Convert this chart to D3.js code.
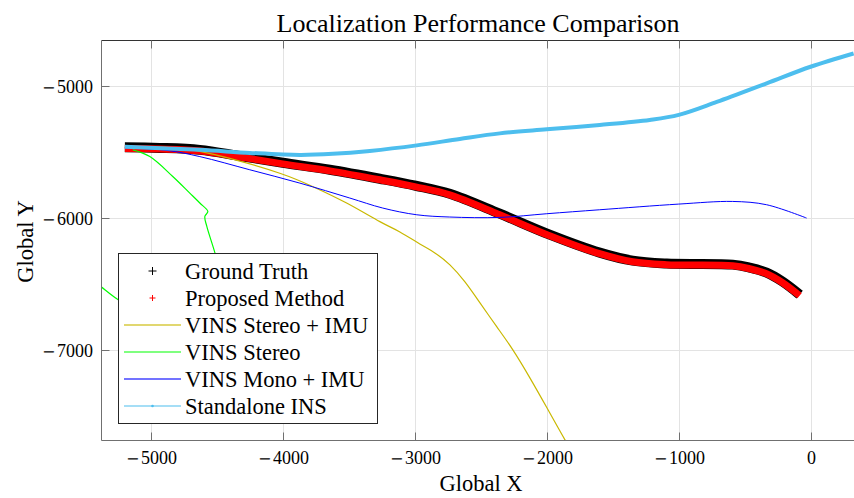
<!DOCTYPE html>
<html><head><meta charset="utf-8">
<script src="https://cdn.jsdelivr.net/npm/d3@7"></script>
<style>
body{margin:0;background:#fff}
svg{display:block}
text{font-family:"Liberation Serif","Times New Roman",serif;fill:#000}
</style>
</head><body>
<svg id="c" width="854" height="498"></svg>
<script>
// ---- data ----
const gtX   = [-5199,-4934,-4631,-4328,-4002,-3646,-3267,-2995,-2737,-2358,-1980,-1601,-1351,-1093,-593,-464,-336,-215,-86];
const gtY   = [-5465,-5469,-5484,-5530,-5582,-5635,-5703,-5756,-5817,-5968,-6127,-6263,-6324,-6346,-6354,-6377,-6415,-6483,-6581];
const propX = [-5199,-4934,-4631,-4328,-4002,-3646,-3267,-2995,-2737,-2358,-1980,-1601,-1351,-1093,-593,-464,-336,-215,-86];
const propY = [-5473,-5477,-5492,-5538,-5590,-5643,-5711,-5764,-5825,-5976,-6135,-6271,-6332,-6354,-6362,-6385,-6423,-6491,-6589];
const stImuX = [-5199,-4783,-4404,-4025,-3773,-3515,-3267,-3115,-2964,-2850,-2736,-2622,-2508,-2380,-2259,-2130,-2001,-1864,-1750];
const stImuY = [-5465,-5472,-5548,-5661,-5763,-5889,-6028,-6106,-6197,-6265,-6356,-6485,-6644,-6826,-7000,-7212,-7439,-7682,-7871];
const stX = [-5138,-5010,-4836,-4707,-4631,-4570,-4593,-4578,-4517,-4442,-4631,-5010,-5252,-5381,-5616];
const stY = [-5484,-5535,-5686,-5812,-5887,-5951,-5989,-6064,-6263,-6543,-6808,-6770,-6619,-6520,-6331];
const monoX = [-5199,-4880,-4631,-4252,-3873,-3495,-3245,-2987,-2737,-2358,-2002,-1601,-1002,-593,-336,-33];
const monoY = [-5469,-5488,-5535,-5635,-5736,-5849,-5925,-5976,-5993,-5996,-5968,-5938,-5895,-5875,-5900,-6001];
const insX = [-5199,-4631,-4252,-3873,-3623,-3343,-2987,-2661,-2358,-2002,-1601,-1222,-1002,-714,-336,-3,323];
const insY = [-5461,-5484,-5507,-5522,-5514,-5492,-5450,-5401,-5359,-5328,-5295,-5257,-5219,-5121,-4980,-4854,-4753];
const xTicks = [-5000,-4000,-3000,-2000,-1000,0];
const yTicks = [-5000,-6000,-7000];
const legendNames = ["Ground Truth","Proposed Method","VINS Stereo + IMU","VINS Stereo","VINS Mono + IMU","Standalone INS"];
const titleText = "Localization Performance Comparison";
const xLabel = "Global X", yLabel = "Global Y";

// ---- layout ----
const L = 101.5, T = 40.5, R = 854, B = 440.5;
const x = d3.scaleLinear().domain([-5376, 326]).range([L, R]);
const y = d3.scaleLinear().domain([-7687, -4655]).range([B, T]);
const svg = d3.select("#c");

function tickLabel(sel, v){
  if (v < 0){
    sel.append("tspan").attr("font-family","DejaVu Serif").attr("font-size","16px").text("\u2212");
    sel.append("tspan").attr("dx",1.5).text(String(Math.abs(v)));
  } else sel.text(String(v));
}

svg.append("defs").append("clipPath").attr("id","clip")
  .append("rect").attr("x",L).attr("y",T).attr("width",R-L).attr("height",B-T);

// grid
const grid = svg.append("g").attr("stroke","#e3e3e3").attr("stroke-width",1);
xTicks.forEach(t=>grid.append("line").attr("x1",Math.round(x(t))+0.5).attr("x2",Math.round(x(t))+0.5).attr("y1",T).attr("y2",B));
yTicks.forEach(t=>grid.append("line").attr("y1",Math.round(y(t))+0.5).attr("y2",Math.round(y(t))+0.5).attr("x1",L).attr("x2",R));

const zip = (a,b)=>a.map((v,i)=>[v,b[i]]);
const line = d3.line().x(d=>x(d[0])).y(d=>y(d[1])).curve(d3.curveCatmullRom.alpha(0.5));
const smooth = d3.line().x(d=>x(d[0])).y(d=>y(d[1])).curve(d3.curveNatural);
const plot = svg.append("g").attr("clip-path","url(#clip)").attr("fill","none");

plot.append("path").attr("d",line(zip(gtX,gtY))).attr("stroke","#000").attr("stroke-width",10);
plot.append("path").attr("d",line(zip(propX,propY))).attr("stroke","#ff0000").attr("stroke-width",7);
plot.append("path").attr("d",smooth(zip(stImuX,stImuY))).attr("stroke","#c9b800").attr("stroke-width",1.2);
plot.append("path").attr("d",line(zip(stX,stY))).attr("stroke","#00ff00").attr("stroke-width",1.2);
plot.append("path").attr("d",line(zip(monoX,monoY))).attr("stroke","#0000ff").attr("stroke-width",1);
plot.append("path").attr("d",line(zip(insX,insY))).attr("stroke","#4dbeee").attr("stroke-width",4);

// axes lines
const ax = svg.append("g");
ax.append("line").attr("x1",L).attr("x2",R).attr("y1",T).attr("y2",T).attr("stroke","#333").attr("stroke-width",1);
ax.append("line").attr("x1",L).attr("x2",L).attr("y1",T).attr("y2",B).attr("stroke","#707070").attr("stroke-width",1);
ax.append("line").attr("x1",L).attr("x2",R).attr("y1",B).attr("y2",B).attr("stroke","#707070").attr("stroke-width",1);
xTicks.forEach(t=>{
  const px = Math.round(x(t))+0.5;
  ax.append("line").attr("x1",px).attr("x2",px).attr("y1",B).attr("y2",B-8).attr("stroke","#707070");
  ax.append("line").attr("x1",px).attr("x2",px).attr("y1",T).attr("y2",T+8).attr("stroke","#707070");
  ax.append("text").attr("x",px).attr("y",464).attr("text-anchor","middle").attr("font-size","18px").call(tickLabel, t);
});
yTicks.forEach(t=>{
  const py = Math.round(y(t))+0.5;
  ax.append("line").attr("x1",L).attr("x2",L+8).attr("y1",py).attr("y2",py).attr("stroke","#707070");
  ax.append("text").attr("x",93).attr("y",py+6).attr("text-anchor","end").attr("font-size","18px").call(tickLabel, t);
});

// title & labels
svg.append("text").attr("x",478).attr("y",32).attr("text-anchor","middle").attr("font-size","26px").text(titleText);
svg.append("text").attr("x",481).attr("y",491).attr("text-anchor","middle").attr("font-size","22.5px").text(xLabel);
svg.append("text").attr("transform","translate(33,241.5) rotate(-90)").attr("text-anchor","middle").attr("font-size","22.5px").text(yLabel);

// legend
const lg = svg.append("g");
lg.append("rect").attr("x",118.5).attr("y",253.5).attr("width",259).attr("height",170).attr("fill","#fff").attr("stroke","#262626").attr("stroke-width",1);
const rowY = i => 271 + i*27;
const sx1 = 124, sx2 = 181, mx = 152.5;
lg.append("path").attr("d",`M${mx-4},${rowY(0)}h8M${mx},${rowY(0)-4}v8`).attr("stroke","#000").attr("stroke-width",1);
lg.append("path").attr("d",`M${mx-3},${rowY(1)}h6M${mx},${rowY(1)-3}v6`).attr("stroke","#ff0000").attr("stroke-width",1);
const legLines = [[2,"#c9b800",1.6,0.75],[3,"#00ff00",1.2,1],[4,"#0000ff",1.8,0.55],[5,"#4dbeee",1.2,1]];
legLines.forEach(([i,c,w,o])=>{
  lg.append("line").attr("x1",sx1).attr("x2",sx2).attr("y1",rowY(i)).attr("y2",rowY(i)).attr("stroke",c).attr("stroke-width",w).attr("stroke-opacity",o);
});
lg.append("circle").attr("cx",mx).attr("cy",rowY(5)).attr("r",1.3).attr("fill","#4dbeee");
legendNames.forEach((n,i)=>{
  lg.append("text").attr("x",185).attr("y",rowY(i)+7.5).attr("font-size","22.5px").text(n);
});
</script>
</body></html>
